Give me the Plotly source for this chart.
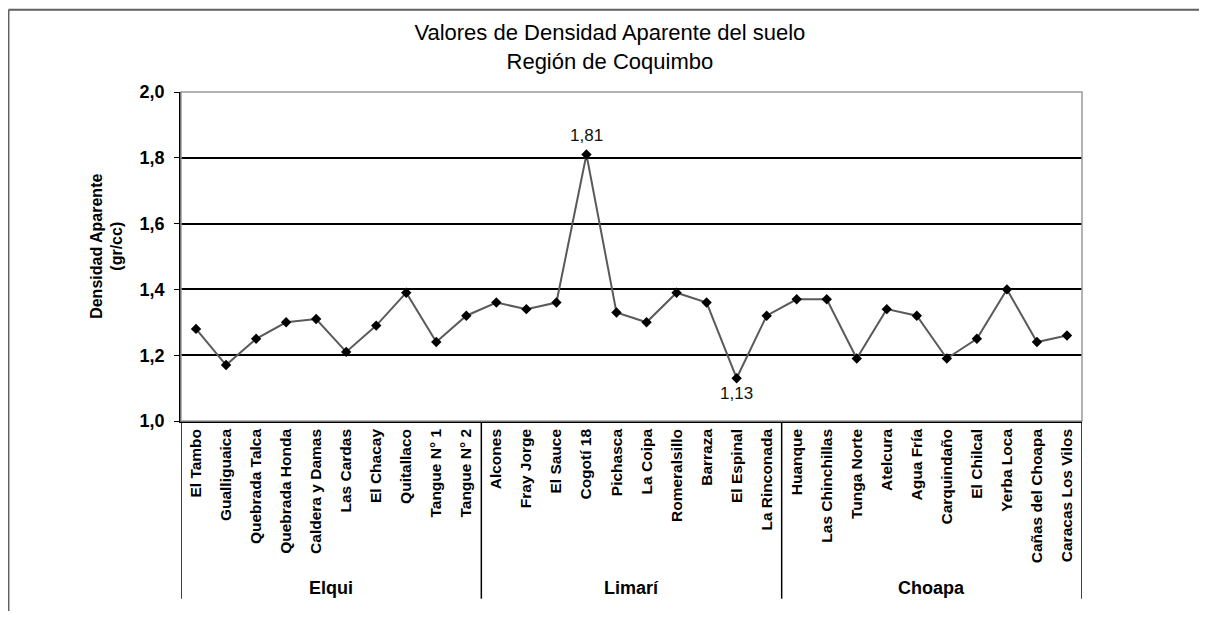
import plotly.graph_objects as go

# Stations grouped by valley (basin)
groups = ["Elqui", "Limarí", "Choapa"]
stations = [
    ["El Tambo", "Gualliguaica", "Quebrada Talca", "Quebrada Honda", "Caldera y Damas",
     "Las Cardas", "El Chacay", "Quitallaco", "Tangue N° 1", "Tangue N° 2"],
    ["Alcones", "Fray Jorge", "El Sauce", "Cogotí 18", "Pichasca",
     "La Coipa", "Romeralsillo", "Barraza", "El Espinal", "La Rinconada"],
    ["Huanque", "Las Chinchillas", "Tunga Norte", "Atelcura", "Agua Fría",
     "Carquindaño", "El Chilcal", "Yerba Loca", "Cañas del Choapa", "Caracas Los Vilos"],
]
density = [
    [1.28, 1.17, 1.25, 1.30, 1.31, 1.21, 1.29, 1.39, 1.24, 1.32],
    [1.36, 1.34, 1.36, 1.81, 1.33, 1.30, 1.39, 1.36, 1.13, 1.32],
    [1.37, 1.37, 1.19, 1.34, 1.32, 1.19, 1.25, 1.40, 1.24, 1.26],
]
y_ticks = [1.0, 1.2, 1.4, 1.6, 1.8, 2.0]

names = [s for grp in stations for s in grp]
values = [v for grp in density for v in grp]

FONT = "Liberation Sans, Arial, sans-serif"

fig = go.Figure()
fig.add_trace(go.Scatter(
    x=names, y=values,
    mode="lines+markers",
    line=dict(color="#5a5a5a", width=2),
    marker=dict(symbol="diamond", size=8, color="black"),
    showlegend=False,
    hovertemplate="%{x}: %{y:.2f}<extra></extra>",
))

shapes = []
annotations = []

# group dividers and group labels below the category labels
start = 0
bounds = [-0.5]
for g, grp in zip(groups, stations):
    end = start + len(grp)
    bounds.append(end - 0.5)
    annotations.append(dict(
        x=(start + end - 1) / 2, y=-0.507, xref="x", yref="paper",
        text=f"<b>{g}</b>", showarrow=False, yanchor="middle",
        font=dict(family=FONT, size=18, color="black"),
    ))
    start = end
for b in bounds:
    shapes.append(dict(type="line", xref="x", yref="paper", x0=b, x1=b, y0=0, y1=-0.54,
                       line=dict(color="black", width=1.5)))

# plot area border (grey top/right)
shapes.append(dict(type="rect", xref="paper", yref="paper", x0=0, x1=1, y0=0, y1=1,
                   line=dict(color="#9a9a9a", width=1.5), layer="above"))
# outer frame: only its top and left edges fall inside the picture
frame = dict(xref="paper", yref="paper", type="line", line=dict(color="#606060", width=2))
shapes.append(dict(frame, x0=-0.1915, x1=1.2, y0=1.25, y1=1.25))
shapes.append(dict(frame, x0=-0.1915, x1=-0.1915, y0=1.25, y1=-0.8))

# label max and min points
i_max = values.index(max(values))
i_min = values.index(min(values))
for i, shift, anchor in [(i_max, 8, "bottom"), (i_min, -4, "top")]:
    annotations.append(dict(
        x=names[i], y=values[i], text=f"{values[i]:.2f}".replace(".", ","),
        showarrow=False, yanchor=anchor, yshift=shift,
        font=dict(family=FONT, size=17, color="#111111"),
    ))

# y-axis title
annotations.append(dict(
    x=-0.083, y=0.53, xref="paper", yref="paper", textangle=-90,
    xanchor="center", yanchor="middle",
    text="<b>Densidad Aparente<br>(gr/cc)</b>", showarrow=False,
    font=dict(family=FONT, size=16, color="black"),
))

fig.update_layout(
    width=1191, height=603,
    margin=dict(l=173, r=117, t=84, b=190),
    paper_bgcolor="white", plot_bgcolor="white",
    separators=",.",
    title=dict(
        text="Valores de Densidad Aparente del suelo<br>Región de Coquimbo",
        x=0.476, xanchor="center", xref="paper",
        y=0.947, yanchor="top", yref="container",
        font=dict(family=FONT, size=22, color="black"),
    ),
    xaxis=dict(
        type="category", tickangle=-90, showgrid=False, ticks="",
        showline=True, linecolor="black", linewidth=1.5,
        tickfont=dict(family=FONT, size=15.5, color="black", weight="bold"),
        range=[-0.5, len(names) - 0.5],
    ),
    yaxis=dict(
        range=[1.0, 2.0], tickvals=y_ticks, tickformat=".1f",
        showgrid=True, gridcolor="black", gridwidth=1.5,
        showline=True, linecolor="black", linewidth=1.5,
        ticks="outside", ticklen=5, tickcolor="black", ticklabelstandoff=6,
        tickfont=dict(family=FONT, size=18, color="black", weight="bold"),
        zeroline=False,
    ),
    shapes=shapes,
    annotations=annotations,
)

fig.write_html("out.html")
